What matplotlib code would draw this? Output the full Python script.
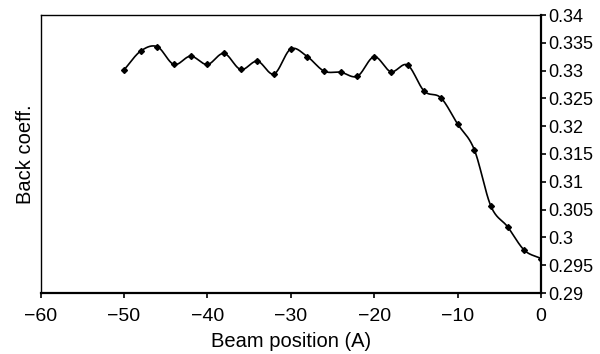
import matplotlib
matplotlib.use("Agg")
import matplotlib.pyplot as plt
import numpy as np

plt.rcParams['font.family'] = ['Liberation Sans', 'DejaVu Sans']

beam_pos = [-50, -48, -46, -44, -42, -40, -38, -36, -34, -32, -30, -28, -26,
            -24, -22, -20, -18, -16, -14, -12, -10, -8, -6, -4, -2, 0]
back_coeff = [0.3301, 0.3335, 0.3343, 0.3311, 0.3326, 0.3311, 0.3331, 0.3302,
              0.3317, 0.3294, 0.3339, 0.3325, 0.3299, 0.3297, 0.3290, 0.3325,
              0.3298, 0.3310, 0.3263, 0.3251, 0.3204, 0.3158, 0.3056, 0.3019,
              0.2977, 0.2962]
x_ticks = [-60, -50, -40, -30, -20, -10, 0]
y_ticks = [0.29, 0.295, 0.3, 0.305, 0.31, 0.315, 0.32, 0.325, 0.33, 0.335, 0.34]


def smooth(x, y, n=20):
    # Catmull-Rom curve through the points, like a spreadsheet "smoothed line"
    x = np.asarray(x, float)
    y = np.asarray(y, float)
    px = np.concatenate([[2 * x[0] - x[1]], x, [2 * x[-1] - x[-2]]])
    py = np.concatenate([[2 * y[0] - y[1]], y, [2 * y[-1] - y[-2]]])
    t = np.linspace(0, 1, n, endpoint=False)
    xs, ys = [], []
    for i in range(1, len(px) - 2):
        for p, out in ((px, xs), (py, ys)):
            p0, p1, p2, p3 = p[i - 1], p[i], p[i + 1], p[i + 2]
            out.extend(0.5 * (2 * p1 + (-p0 + p2) * t
                              + (2 * p0 - 5 * p1 + 4 * p2 - p3) * t ** 2
                              + (-p0 + 3 * p1 - 3 * p2 + p3) * t ** 3))
    xs.append(x[-1])
    ys.append(y[-1])
    return xs, ys


fig = plt.figure(figsize=(6, 3.54), dpi=100)
ax = fig.add_axes([40.5 / 600, 1 - 293 / 354, 500.5 / 600, 278 / 354])

sx, sy = smooth(beam_pos, back_coeff)
ax.plot(sx, sy, color='black', lw=1.2)
ax.plot(beam_pos, back_coeff, ls='none', marker='D', ms=3.0, color='black')

ax.set_xlim(-60, 0)
ax.set_ylim(0.29, 0.34)
ax.set_xticks(x_ticks)
ax.set_yticks(y_ticks)
ax.set_yticklabels([f"{v:g}" for v in y_ticks])
ax.yaxis.tick_right()
ax.tick_params(axis='both', direction='out', length=3.5,
               width=1.2, colors='black')
ax.tick_params(axis='y', pad=1.5, labelsize=13)
ax.tick_params(axis='x', pad=7.5, labelsize=14)
for s in ax.spines.values():
    s.set_linewidth(1.0)
ax.spines['right'].set_linewidth(1.6)
ax.spines['bottom'].set_linewidth(1.6)

ax.set_xlabel('Beam position (A)', fontsize=14.5, labelpad=5)
ax.set_ylabel('Back coeff.', fontsize=14.5, labelpad=4)

fig.savefig('out.png', dpi=100)
